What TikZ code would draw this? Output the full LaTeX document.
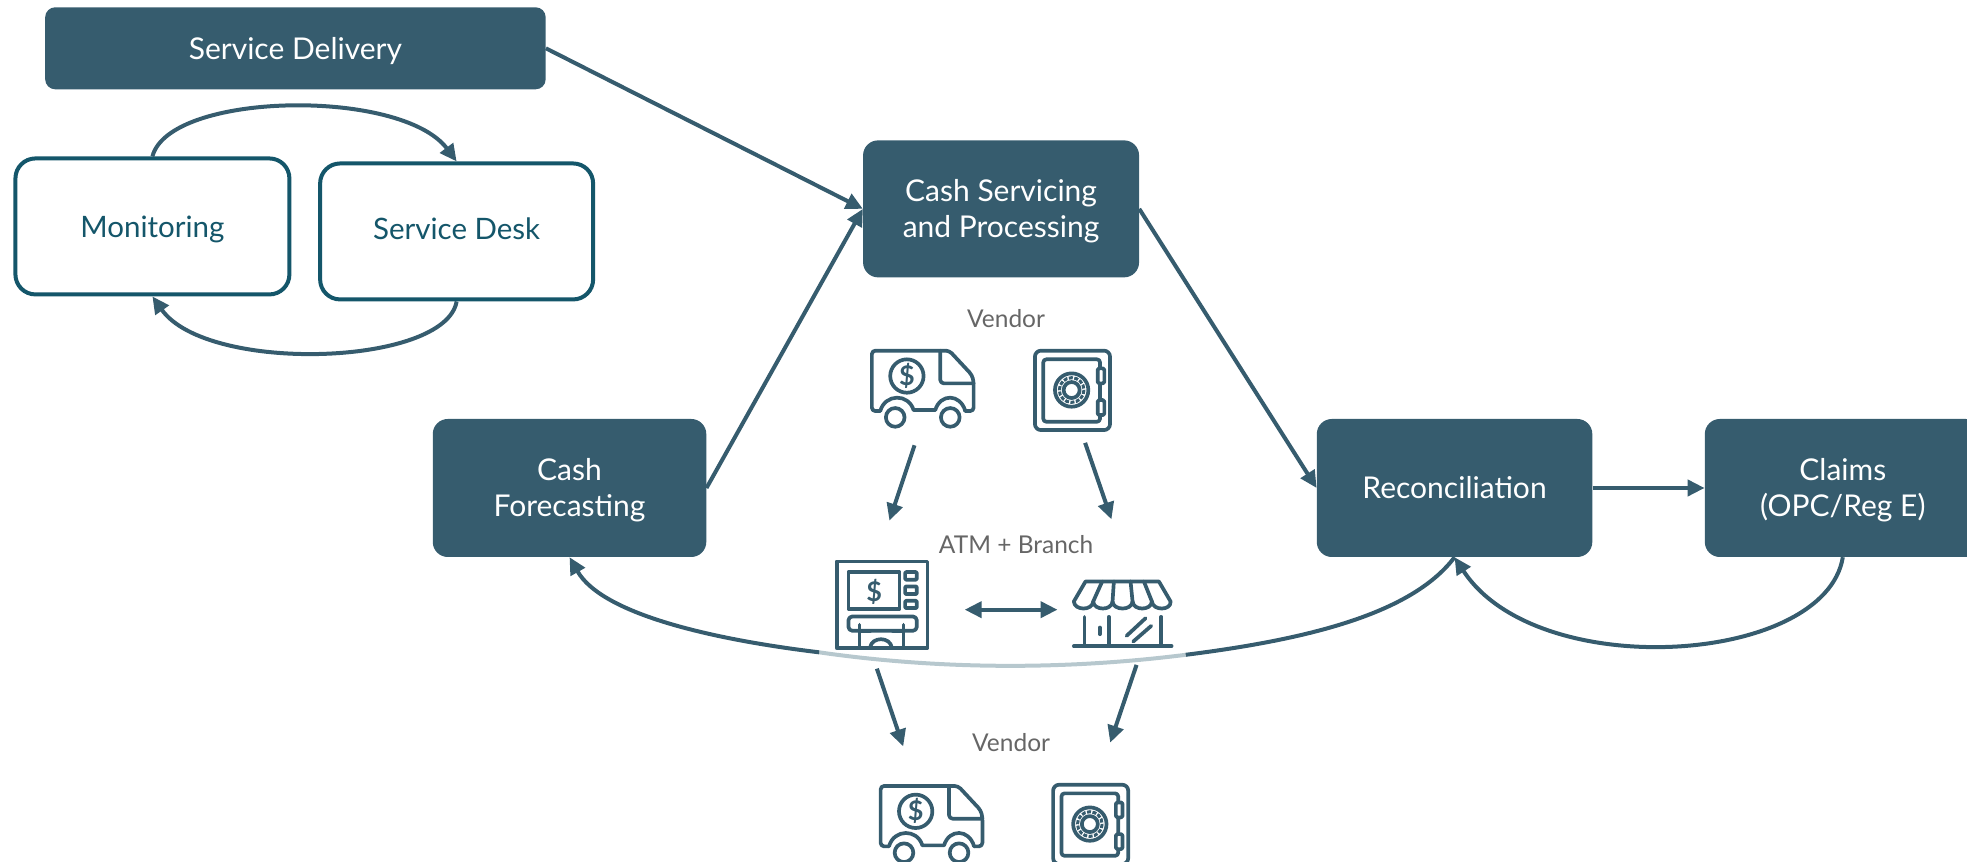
\documentclass[tikz,border=0pt]{standalone}
\usepackage{fontspec}
\setmainfont{Lato}
\usetikzlibrary{arrows.meta}
\definecolor{dk}{HTML}{365C6E}
\definecolor{ol}{HTML}{14566A}
\definecolor{gr}{HTML}{666666}
\definecolor{fade}{HTML}{B7C8CE}
\newcommand{\nudgedown}{\rule{0pt}{27pt}}
\newcommand{\nudgeup}{\rule[-5pt]{0pt}{1pt}}
\tikzset{
  x=1.2545pt,y=-1.2545pt,
  solidbox/.style={rectangle,fill=dk,text=white,rounded corners=15pt,align=center,font=\fontsize{30}{36}\selectfont,inner sep=0pt},
  linebox/.style={rectangle,draw=ol,line width=4pt,fill=white,text=ol,rounded corners=20pt,align=center,font=\fontsize{29.5}{36}\selectfont,inner sep=0pt},
  lbl/.style={text=gr,font=\fontsize{24.5}{28}\selectfont,inner sep=0pt},
  conn/.style={draw=dk,line width=4pt,-{Triangle[length=17pt,width=16pt]}},
  plainconn/.style={draw=dk,line width=4pt},
  ic/.style={draw=dk,line width=3.7pt,line join=round,line cap=round},
  icd/.style={text=dk,font=\fontsize{27}{27}\selectfont\bfseries,inner sep=0pt},
  pics/truck/.style={code={
    \draw[ic,rounded corners=3.5pt] (25,183) -- (0,183) -- (0,2) -- (232,2) -- (300,75) -- (305,95) -- (305,183) -- (280,183);
    \draw[ic] (280,183) .. controls (265,130) and (205,130) .. (190,180) -- (125,180) .. controls (110,130) and (40,130) .. (25,183);
    \draw[ic,rounded corners=3.5pt] (205,2) -- (205,100) -- (305,100);
    \draw[ic] (105,78) circle [radius=50];
    \draw[ic] (70,202) circle [radius=28];
    \draw[ic] (235,202) circle [radius=28];
    \node[icd] (-d) at (105,78) {\$};
  }},
  pics/safe/.style={code={
    \draw[ic,rounded corners=6pt] (0,2) rectangle (225,240);
    \draw[ic,rounded corners=3pt] (25,28) rectangle (195,215);
    \draw[ic,fill=white,rounded corners=1.5pt] (188,55) rectangle (208,100);
    \draw[ic,fill=white,rounded corners=1.5pt] (188,150) rectangle (208,195);
    \draw[ic] (110,120) circle [radius=50];
    \draw[ic] (110,120) circle [radius=24];
    \draw[draw=dk,line width=3pt,dash pattern=on 4pt off 1.5pt] (110,120) circle [radius=37];
  }},
  pics/atm/.style={code={
    \draw[ic] (0,0) rectangle (272,260);
    \draw[ic] (35,32) rectangle (188,142);
    \node[icd] (-d) at (112,90) {\$};
    \draw[ic,rounded corners=1pt] (205,32) rectangle (240,55);
    \draw[ic,rounded corners=1pt] (205,75) rectangle (240,98);
    \draw[ic,rounded corners=1pt] (205,118) rectangle (240,140);
    \draw[ic,rounded corners=4pt] (35,165) rectangle (240,208);
    \draw[ic] (68,190) -- (68,260);
    \draw[ic] (200,190) -- (200,260);
    \draw[ic] (68,208) -- (100,208) (200,208) -- (168,208);
    \draw[ic] (100,258) .. controls (105,225) and (160,225) .. (165,258);
  }},
  pics/store/.style={code={
    \draw[ic] (35,2) -- (255,2) -- (290,62) .. controls (292,90) and (236,90) .. (234,62)
      .. controls (232,90) and (178,90) .. (176,62) .. controls (174,90) and (118,90) .. (116,62)
      .. controls (114,90) and (60,90) .. (58,62) .. controls (56,90) and (2,90) .. (0,62) -- cycle;
    \draw[ic] (85,2) -- (58,62) (120,2) -- (116,62) (170,2) -- (176,62) (210,2) -- (234,62);
    \draw[ic] (32,108) -- (32,195) (105,108) -- (105,195) (262,108) -- (262,195);
    \draw[ic] (0,196) -- (293,196);
    \draw[ic] (78,140) -- (78,160);
    \draw[ic] (158,165) -- (215,112) (178,182) -- (232,135);
  }},
}
\begin{document}
\begin{tikzpicture}
\useasboundingbox (0,0) rectangle (1568,687);
\clip (0,0) rectangle (1568,687);

% boxes
\node[solidbox,rounded corners=10pt,minimum width=500.5pt,minimum height=82pt] (sd) at (235.5,38.5) {\nudgedown Service Delivery};
\node[linebox,minimum width=274pt,minimum height=136pt] (mon) at (121.5,180.5) {\nudgedown Monitoring};
\node[linebox,minimum width=273pt,minimum height=136pt] (desk) at (364,184.5) {\nudgeup Service Desk};
\node[solidbox,minimum width=276pt,minimum height=137pt] (serv) at (798,166.5) {\nudgedown Cash Servicing\\and Processing};
\node[solidbox,minimum width=273.5pt,minimum height=138pt] (fc) at (454,389) {\nudgedown Cash\\Forecasting};
\node[solidbox,minimum width=275.5pt,minimum height=138pt] (rec) at (1159.5,389) {Reconciliation};
\node[solidbox,minimum width=276pt,minimum height=138pt] (cl) at (1469,389) {\nudgedown Claims\\(OPC/Reg E)};

% labels
\node[lbl] (v1) at (802,254) {Vendor};
\node[lbl] (ab) at (810,434) {ATM + Branch};
\node[lbl] (v2) at (806,592) {Vendor};

% icons
\pic[scale=.266] (t1) at (695,279) {truck};
\pic[scale=.266] (s1) at (825,279) {safe};
\pic[scale=.266] (a1) at (667,447.5) {atm};
\pic[scale=.266] (b1) at (856,463) {store};
\pic[scale=.266] (t2) at (702,626) {truck};
\pic[scale=.266] (s2) at (839.5,625) {safe};

% free ends
\coordinate (e1a) at (729,355); \coordinate (e1b) at (709,415);
\coordinate (e2a) at (865,353); \coordinate (e2b) at (886,414);
\coordinate (e3a) at (699,533); \coordinate (e3b) at (720,595);
\coordinate (e4a) at (906,530); \coordinate (e4b) at (885,592);
\coordinate (e5a) at (769,486); \coordinate (e5b) at (843,486);
\coordinate (f1) at (945,522); \coordinate (f2) at (653,520);

% connectors
\draw[conn] (sd.east) -- (serv.west);
\draw[conn] (fc.east) -- (serv.west);
\draw[conn] (serv.east) -- (rec.west);
\draw[conn] (rec.east) -- (cl.west);
\draw[conn] (mon.north) .. controls (135,73) and (320,70) .. (desk.north);
\draw[conn] (desk.south) .. controls (355,292) and (165,298) .. (mon.south);
\draw[conn] (cl.south) .. controls (1455,530) and (1225,545) .. (rec.south);
\draw[plainconn] (rec.south) .. controls (1125,490) and (1040,510) .. (f1);
\draw[draw=fade,line width=4pt] (f1) .. controls (850,534) and (750,534) .. (f2);
\draw[conn] (f2) .. controls (570,510) and (480,490) .. (fc.south);

\draw[conn] (e1a) -- (e1b);
\draw[conn] (e2a) -- (e2b);
\draw[conn] (e3a) -- (e3b);
\draw[conn] (e4a) -- (e4b);
\draw[conn,{Triangle[length=17pt,width=16pt]}-{Triangle[length=17pt,width=16pt]}] (e5a) -- (e5b);
\end{tikzpicture}
\end{document}
